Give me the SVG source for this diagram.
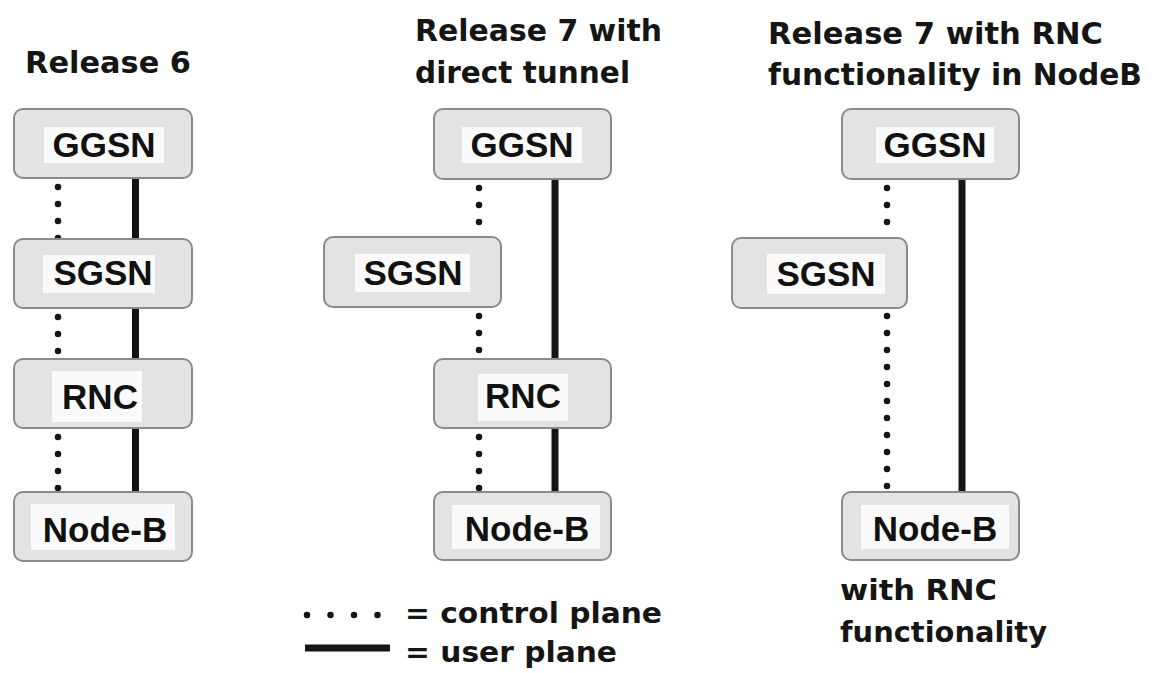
<svg xmlns="http://www.w3.org/2000/svg" width="1156" height="673" viewBox="0 0 1156 673">
  <style>
    .box { fill: #e3e3e3; stroke: #8a8a8a; stroke-width: 2; }
    .pad { fill: #fafafa; }
    .lbl { font-family: "Liberation Sans", Arial, sans-serif; font-weight: bold; font-size: 35px; fill: #111; text-anchor: middle; }
    .title { font-family: "DejaVu Sans", Verdana, sans-serif; font-weight: bold; font-size: 31px; fill: #151515; }
    .narrow { font-family: "DejaVu Sans Condensed", "DejaVu Sans", sans-serif; font-size: 30px; }
    .note { font-family: "DejaVu Sans", Verdana, sans-serif; font-weight: bold; font-size: 28px; fill: #151515; }
    .ctrl { stroke: #151515; stroke-width: 6.5; stroke-linecap: round; stroke-dasharray: 0 17; fill: none; }
    .user { stroke: #151515; stroke-width: 7; fill: none; }
  </style>
  <rect width="1156" height="673" fill="#ffffff"/>

  <!-- column titles -->
  <text class="title" x="25" y="73" textLength="166" lengthAdjust="spacingAndGlyphs">Release 6</text>
  <text class="title" x="415" y="41" textLength="247" lengthAdjust="spacingAndGlyphs">Release 7 with</text>
  <text class="title" x="415" y="83" textLength="215" lengthAdjust="spacingAndGlyphs">direct tunnel</text>
  <text class="title" x="768" y="44" textLength="335" lengthAdjust="spacingAndGlyphs">Release 7 with RNC</text>
  <text class="title narrow" x="768" y="85" textLength="374" lengthAdjust="spacingAndGlyphs">functionality in NodeB</text>

  <!-- connectors -->
  <g id="connectors">
    <!-- Release 6 -->
    <line class="ctrl" x1="58" y1="187" x2="58" y2="239"/>
    <line class="ctrl" x1="58" y1="317" x2="58" y2="359"/>
    <line class="ctrl" x1="58" y1="437" x2="58" y2="492"/>
    <line class="user" x1="135.5" y1="178" x2="135.5" y2="239"/>
    <line class="user" x1="135.5" y1="308" x2="135.5" y2="359"/>
    <line class="user" x1="135.5" y1="428" x2="135.5" y2="492"/>
    <!-- Release 7 direct tunnel -->
    <line class="ctrl" x1="479" y1="188" x2="479" y2="237"/>
    <line class="ctrl" x1="479" y1="316" x2="479" y2="359"/>
    <line class="ctrl" x1="479" y1="437" x2="479" y2="492"/>
    <line class="user" x1="555" y1="179" x2="555" y2="359"/>
    <line class="user" x1="555" y1="428" x2="555" y2="492"/>
    <!-- Release 7 RNC in NodeB -->
    <line class="ctrl" x1="887" y1="188" x2="887" y2="238"/>
    <line class="ctrl" x1="887" y1="316" x2="887" y2="492"/>
    <line class="user" x1="962" y1="179" x2="962" y2="492"/>
  </g>

  <!-- Release 6 nodes -->
  <g id="r6-ggsn">
    <rect class="box" x="14" y="109" width="178" height="69" rx="9"/>
    <rect class="pad" x="44" y="127" width="120" height="36"/>
    <text class="lbl" x="104" y="157">GGSN</text>
  </g>
  <g id="r6-sgsn">
    <rect class="box" x="14" y="239" width="178" height="69" rx="9"/>
    <rect class="pad" x="43" y="255" width="112" height="38"/>
    <text class="lbl" x="103" y="285">SGSN</text>
  </g>
  <g id="r6-rnc">
    <rect class="box" x="14" y="359" width="178" height="69" rx="9"/>
    <rect class="pad" x="52" y="371" width="90" height="51"/>
    <text class="lbl" x="100" y="409">RNC</text>
  </g>
  <g id="r6-nodeb">
    <rect class="box" x="14" y="492" width="178" height="69" rx="9"/>
    <rect class="pad" x="31" y="504" width="144" height="46"/>
    <text class="lbl" x="105" y="542">Node-B</text>
  </g>

  <!-- Release 7 direct tunnel nodes -->
  <g id="r7dt-ggsn">
    <rect class="box" x="434" y="109" width="177" height="70" rx="9"/>
    <rect class="pad" x="462" y="127" width="120" height="36"/>
    <text class="lbl" x="522" y="157">GGSN</text>
  </g>
  <g id="r7dt-sgsn">
    <rect class="box" x="324" y="237" width="177" height="70" rx="9"/>
    <rect class="pad" x="355" y="254" width="115" height="38"/>
    <text class="lbl" x="413" y="285">SGSN</text>
  </g>
  <g id="r7dt-rnc">
    <rect class="box" x="434" y="359" width="177" height="69" rx="9"/>
    <rect class="pad" x="478" y="374" width="90" height="47"/>
    <text class="lbl" x="523" y="408">RNC</text>
  </g>
  <g id="r7dt-nodeb">
    <rect class="box" x="434" y="492" width="177" height="68" rx="9"/>
    <rect class="pad" x="452" y="505" width="148" height="44"/>
    <text class="lbl" x="527" y="541">Node-B</text>
  </g>

  <!-- Release 7 RNC-in-NodeB nodes -->
  <g id="r7rnc-ggsn">
    <rect class="box" x="842" y="109" width="177" height="70" rx="9"/>
    <rect class="pad" x="876" y="127" width="118" height="36"/>
    <text class="lbl" x="935" y="157">GGSN</text>
  </g>
  <g id="r7rnc-sgsn">
    <rect class="box" x="732" y="238" width="175" height="70" rx="9"/>
    <rect class="pad" x="767" y="254" width="118" height="40"/>
    <text class="lbl" x="826" y="286">SGSN</text>
  </g>
  <g id="r7rnc-nodeb">
    <rect class="box" x="842" y="492" width="177" height="68" rx="9"/>
    <rect class="pad" x="861" y="505" width="148" height="44"/>
    <text class="lbl" x="935" y="541">Node-B</text>
  </g>
  <text class="note" x="840" y="600" textLength="157" lengthAdjust="spacingAndGlyphs">with RNC</text>
  <text class="note" x="840" y="642" textLength="207" lengthAdjust="spacingAndGlyphs">functionality</text>

  <!-- legend -->
  <g id="legend">
    <line class="ctrl" x1="307" y1="615" x2="378" y2="615" style="stroke-dasharray:0 23.5"/>
    <text class="note" x="405" y="623" textLength="257" lengthAdjust="spacingAndGlyphs">= control plane</text>
    <line class="user" x1="305" y1="648" x2="390" y2="648"/>
    <text class="note" x="405" y="662" textLength="212" lengthAdjust="spacingAndGlyphs">= user plane</text>
  </g>
</svg>
